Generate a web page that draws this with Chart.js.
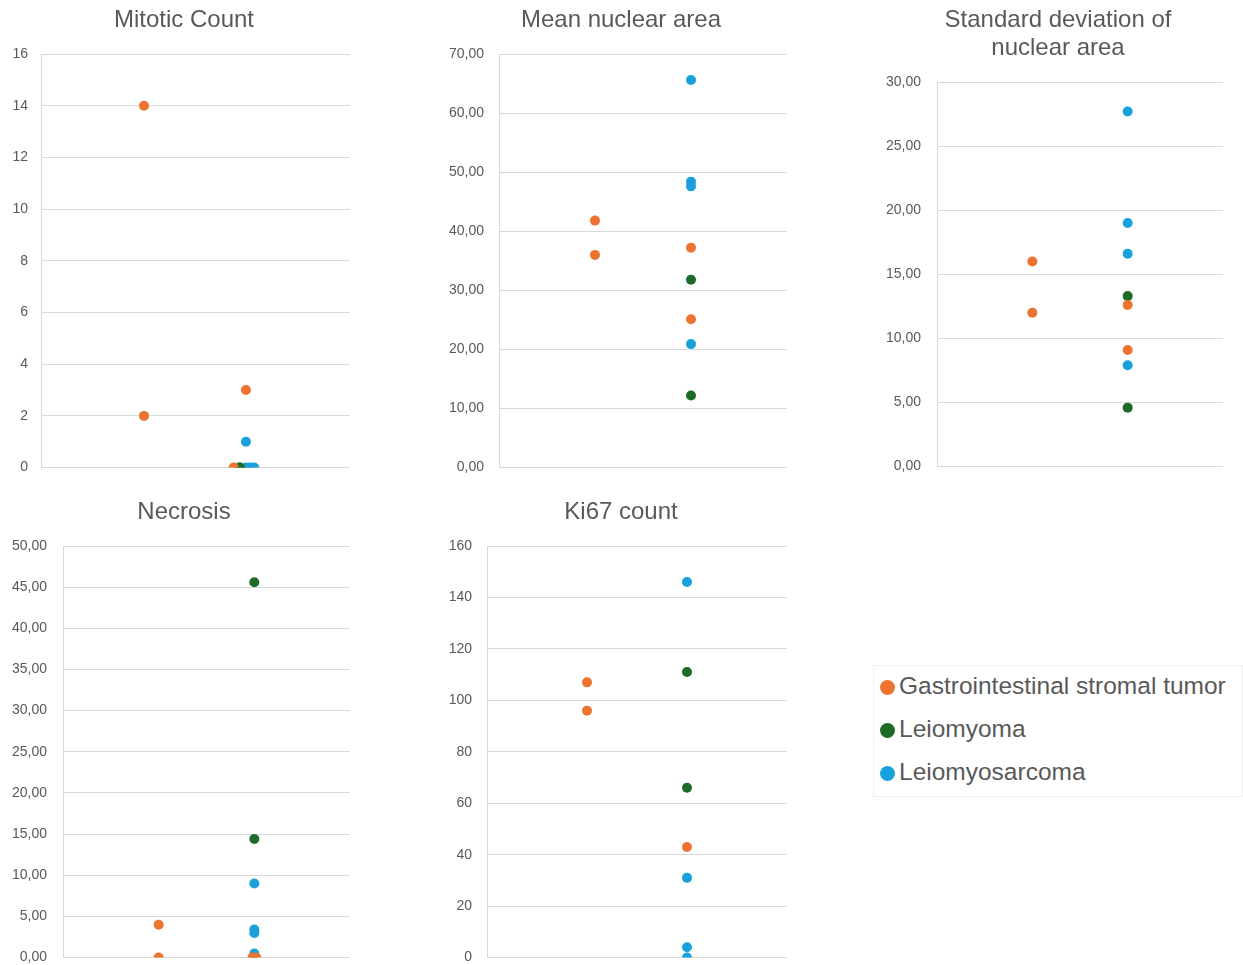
<!DOCTYPE html>
<html>
<head>
<meta charset="utf-8">
<script src="https://cdn.jsdelivr.net/npm/chart.js@4/dist/chart.umd.min.js"></script>
<style>
  html, body { margin: 0; padding: 0; background: #fff; overflow: hidden; }
  body { width: 1243px; height: 965px; position: relative; font-family: "Liberation Sans", Arial, sans-serif; }
  .box { position: absolute; }
  #legend { position: absolute; left: 873px; top: 665px; width: 370px; height: 132px; border: 1px solid #f0f0f0; box-sizing: border-box; }
  .item { position: absolute; left: 6px; font-size: 24.5px; color: #595959; line-height: 28px; white-space: nowrap; }
  .dot { display: inline-block; width: 15px; height: 15px; border-radius: 50%; margin-right: 4px; vertical-align: -1px; }
</style>
</head>
<body>
<div class="box" style="left:0px;top:0px;width:368px;height:489px"><canvas id="c1"></canvas></div>
<div class="box" style="left:440px;top:0px;width:362px;height:491px"><canvas id="c2"></canvas></div>
<div class="box" style="left:880px;top:0px;width:356px;height:491px"><canvas id="c3"></canvas></div>
<div class="box" style="left:0px;top:492px;width:368px;height:490px"><canvas id="c4"></canvas></div>
<div class="box" style="left:440px;top:492px;width:362px;height:489px"><canvas id="c5"></canvas></div>
<div id="legend"></div>
<script>
// ---- Data ----
const seriesNames = ["Gastrointestinal stromal tumor", "Leiomyoma", "Leiomyosarcoma"];
const seriesColors = ["#EC7430", "#1D6B27", "#18A1DB"];

// Mitotic Count
const mitoticGistX = [1, 1, 1.99, 1.87];
const mitoticGistY = [14, 2, 3, 0];
const mitoticLmX = [1.93, 1.93];
const mitoticLmY = [0, 0];
const mitoticLmsX = [1.99, 1.99, 2.03, 2.07];
const mitoticLmsY = [1, 0, 0, 0];

// Mean nuclear area
const meanGistX = [1, 1, 2, 2];
const meanGistY = [41.8, 36.0, 37.2, 25.1];
const meanLmX = [2, 2];
const meanLmY = [31.8, 12.2];
const meanLmsX = [2, 2, 2, 2];
const meanLmsY = [65.6, 48.4, 47.6, 20.9];

// Standard deviation of nuclear area
const sdGistX = [1, 1, 2, 2];
const sdGistY = [16.0, 12.0, 12.6, 9.1];
const sdLmX = [2, 2];
const sdLmY = [13.3, 4.6];
const sdLmsX = [2, 2, 2, 2];
const sdLmsY = [27.7, 19.0, 16.6, 7.9];

// Necrosis
const necGistX = [1, 1, 1.98, 2.02];
const necGistY = [4.0, 0, 0, 0];
const necLmX = [2, 2];
const necLmY = [45.6, 14.4];
const necLmsX = [2, 2, 2, 2];
const necLmsY = [9.0, 3.4, 3.0, 0.5];

// Ki67 count
const kiGistX = [1, 1, 2];
const kiGistY = [107, 96, 43];
const kiLmX = [2, 2];
const kiLmY = [111, 66];
const kiLmsX = [2, 2, 2, 2];
const kiLmsY = [146, 31, 4, 0];

const titles = ["Mitotic Count", "Mean nuclear area", ["Standard deviation of", "nuclear area"], "Necrosis", "Ki67 count"];
const yMax = [16, 70, 30, 50, 160];
const yStep = [2, 10, 5, 5, 20];
const decimals = [0, 2, 2, 2, 0];

// ---- Build ----
function pts(xs, ys) { return xs.map((x, i) => ({ x: x, y: ys[i] })); }

const FONT = "'Liberation Sans', Arial, sans-serif";

function makeChart(id, idx, sets, yWidth, rightWidth, tickPad) {
  const datasets = sets.map((s, i) => ({
    label: seriesNames[i],
    data: pts(s[0], s[1]),
    backgroundColor: seriesColors[i],
    borderColor: seriesColors[i],
    borderWidth: 0,
    pointRadius: 5,
    pointHoverRadius: 5
  }));
  return new Chart(document.getElementById(id), {
    type: 'scatter',
    data: { datasets },
    options: {
      responsive: true,
      maintainAspectRatio: false,
      animation: false,
      layout: { padding: { left: 0, right: 0, top: 0, bottom: 10 } },
      plugins: {
        legend: { display: false },
        tooltip: { enabled: false },
        title: {
          display: true,
          text: titles[idx],
          color: '#595959',
          font: { family: FONT, size: 24, weight: 'normal', lineHeight: 1.1667 },
          padding: { top: 6, bottom: 20 }
        }
      },
      scales: {
        x: { type: 'linear', min: 0, max: 3, display: false },
        y: {
          position: 'left',
          min: 0, max: yMax[idx],
          afterFit: (s) => { s.width = yWidth; },
          grid: { color: '#d9d9d9', lineWidth: 1, drawTicks: false },
          border: { display: true, color: '#d9d9d9', width: 1 },
          ticks: {
            stepSize: yStep[idx],
            padding: tickPad,
            color: '#595959',
            font: { family: FONT, size: 14 },
            callback: (v) => Number(v).toFixed(decimals[idx]).replace('.', ',')
          }
        },
        yRight: {
          type: 'linear',
          position: 'right',
          min: 0, max: 1,
          afterFit: (s) => { s.width = rightWidth; },
          grid: { display: false, drawOnChartArea: false, drawTicks: false },
          border: { display: false },
          ticks: { display: false }
        }
      }
    }
  });
}

makeChart('c1', 0, [[mitoticGistX, mitoticGistY], [mitoticLmX, mitoticLmY], [mitoticLmsX, mitoticLmsY]], 41, 18, 13);
makeChart('c2', 1, [[meanGistX, meanGistY], [meanLmX, meanLmY], [meanLmsX, meanLmsY]], 59, 15, 15);
makeChart('c3', 2, [[sdGistX, sdGistY], [sdLmX, sdLmY], [sdLmsX, sdLmsY]], 57, 13, 16);
makeChart('c4', 3, [[necGistX, necGistY], [necLmX, necLmY], [necLmsX, necLmsY]], 63, 18, 16);
makeChart('c5', 4, [[kiGistX, kiGistY], [kiLmX, kiLmY], [kiLmsX, kiLmsY]], 47, 15, 15);

// Legend
const lg = document.getElementById('legend');
const tops = [6, 49, 92];
seriesNames.forEach((n, i) => {
  const d = document.createElement('div');
  d.className = 'item';
  d.style.top = tops[i] + 'px';
  d.innerHTML = '<span class="dot" style="background:' + seriesColors[i] + '"></span>' + n;
  lg.appendChild(d);
});
</script>
</body>
</html>
